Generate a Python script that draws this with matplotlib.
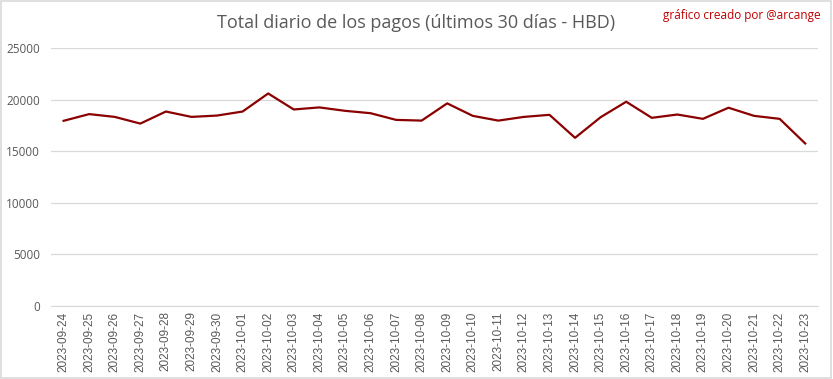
import matplotlib
matplotlib.use('Agg')
import matplotlib.pyplot as plt
import pandas as pd

# datos
fechas = pd.date_range('2023-09-24', '2023-10-23').strftime('%Y-%m-%d').tolist()
totales = [17950, 18600, 18330, 17680, 18850, 18330, 18460, 18850, 20600, 19050,
           19250, 18920, 18690, 18040, 17970, 19640, 18430, 17970, 18330, 18530,
           16300, 18300, 19800, 18240, 18560, 18140, 19220, 18430, 18140, 15750]

gris = '#595959'

fig = plt.figure(figsize=(8.33, 3.79), dpi=100)
ax = fig.add_axes([0.061, 0.193, 0.921, 0.68])

x = list(range(len(fechas)))
ax.plot(x, totales, color='#8B0000', linewidth=1.6)

ax.set_xlim(-0.5, len(fechas) - 0.5)
ax.set_ylim(0, 25000)
ax.set_yticks([0, 5000, 10000, 15000, 20000, 25000])
ax.set_xticks(x)
ax.set_xticklabels(fechas, rotation=90, fontsize=8.5, color=gris, family='Liberation Sans')
ax.tick_params(axis='y', labelsize=8.5, labelcolor=gris, length=0, pad=8)
ax.tick_params(axis='x', length=0, pad=4)
for lab in ax.get_yticklabels():
    lab.set_family('Open Sans')

ax.grid(axis='y', color='#d9d9d9', linewidth=0.9)
ax.set_axisbelow(True)
for s in ['top', 'right', 'left']:
    ax.spines[s].set_visible(False)
ax.spines['bottom'].set_color('#d9d9d9')

fig.text(0.5, 0.94, 'Total diario de los pagos (últimos 30 días - HBD)', ha='center', va='center',
         fontsize=13, color=gris, family='Open Sans')
fig.text(0.985, 0.96, 'gráfico creado por @arcange', ha='right', va='center',
         fontsize=8.5, color='#c00000', family='Open Sans')

# borde del cuadro
fig.patches.append(plt.Rectangle((0.001, 0.002), 0.997, 0.995, transform=fig.transFigure,
                                 fill=False, edgecolor='#d9d9d9', linewidth=1.2))

fig.savefig('out.png', dpi=100)
